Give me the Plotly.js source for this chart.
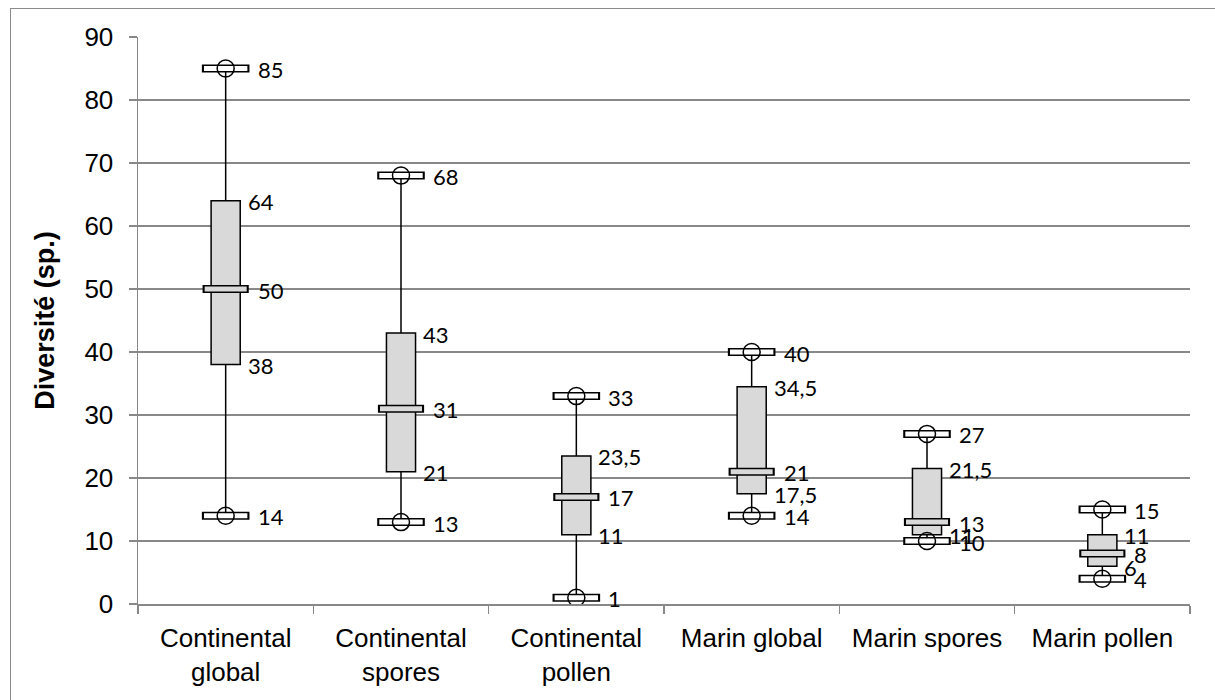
<!DOCTYPE html>
<html>
<head>
<meta charset="utf-8">
<script src="https://cdn.plot.ly/plotly-3.0.1.min.js"></script>
<style>
  html, body { margin: 0; padding: 0; background: #fff; }
  #wrap { position: relative; width: 1215px; height: 700px; overflow: hidden; }
  #chart { width: 1215px; height: 700px; }
  #frame { position: absolute; left: 9.5px; top: 8px; width: 1300px; height: 800px;
           border-left: 1.5px solid #8a8a8a; border-top: 1.5px solid #8a8a8a; pointer-events: none; }
</style>
</head>
<body>
<div id="wrap">
  <div id="chart"></div>
  <div id="frame"></div>
</div>
<script>
// ---- data ----
const categories = ["Continental<br>global", "Continental<br>spores", "Continental<br>pollen",
                    "Marin global", "Marin spores", "Marin pollen"];
const minVals    = [14, 13, 1, 14, 10, 4];
const q1Vals     = [38, 21, 11, 17.5, 11, 6];
const medianVals = [50, 31, 17, 21, 13, 8];
const q3Vals     = [64, 43, 23.5, 34.5, 21.5, 11];
const maxVals    = [85, 68, 33, 40, 27, 15];
const yTicks     = [0, 10, 20, 30, 40, 50, 60, 70, 80, 90];

const BOXFILL = "#d9d9d9";
const GRID = "#888888";
const AXFONT = "'Liberation Sans', Arial, sans-serif";

const traces = [];

// boxes + whiskers
traces.push({
  type: "box",
  x: categories,
  q1: q1Vals,
  median: medianVals,
  q3: q3Vals,
  lowerfence: minVals,
  upperfence: maxVals,
  width: 0.166,
  whiskerwidth: 0,
  boxpoints: false,
  fillcolor: BOXFILL,
  line: { color: "#000", width: 1.5 },
  hoverinfo: "skip",
  showlegend: false
});

// median marker: rectangle (outline + inner fill)
traces.push({
  type: "scatter", mode: "markers", x: categories, y: medianVals,
  marker: { symbol: "line-ew", size: 33, line: { color: "#000", width: 8 } },
  hoverinfo: "skip", showlegend: false
});
traces.push({
  type: "scatter", mode: "markers", x: categories, y: medianVals,
  marker: { symbol: "line-ew", size: 30, line: { color: BOXFILL, width: 5 } },
  hoverinfo: "skip", showlegend: false
});

// min / max markers: rectangle + circle
[minVals, maxVals].forEach(vals => {
  traces.push({
    type: "scatter", mode: "markers", x: categories, y: vals,
    marker: { symbol: "line-ew", size: 34, line: { color: "#000", width: 8 } },
    hoverinfo: "skip", showlegend: false
  });
  traces.push({
    type: "scatter", mode: "markers", x: categories, y: vals,
    marker: { symbol: "line-ew", size: 31, line: { color: "#fff", width: 5 } },
    hoverinfo: "skip", showlegend: false
  });
  traces.push({
    type: "scatter", mode: "markers", x: categories, y: vals,
    marker: { symbol: "circle-open", size: 17, color: "#000", line: { color: "#000", width: 1.5 } },
    hoverinfo: "skip", showlegend: false
  });
});

// labels
const fmt = v => String(v).replace(".", ",");
const annotations = [];
const labelSets = [
  { vals: maxVals, shift: 30 },
  { vals: q3Vals, shift: 20 },
  { vals: medianVals, shift: 30 },
  { vals: q1Vals, shift: 20 },
  { vals: minVals, shift: 30 }
];
labelSets.forEach(set => {
  set.vals.forEach((v, i) => {
    annotations.push({
      x: categories[i], y: v, xref: "x", yref: "y",
      text: fmt(v), showarrow: false,
      xanchor: "left", yanchor: "middle", xshift: set.shift, yshift: -1,
      font: { family: "Lato, Carlito, 'Liberation Sans', sans-serif", size: 22, color: "#000" }
    });
  });
});

const layout = {
  width: 1215, height: 700,
  margin: { l: 138, r: 25, t: 37, b: 96, pad: 0 },
  paper_bgcolor: "#fff", plot_bgcolor: "#fff",
  showlegend: false,
  font: { family: AXFONT, size: 26, color: "#000" },
  xaxis: {
    type: "category",
    range: [-0.5, 5.5],
    tickson: "boundaries",
    ticks: "outside", ticklen: 8, tickwidth: 1.5, tickcolor: GRID,
    showline: true, linecolor: GRID, linewidth: 1.5,
    showgrid: false, zeroline: false,
    ticklabelstandoff: 10,
    tickfont: { family: AXFONT, size: 26, color: "#000" },
    fixedrange: true
  },
  yaxis: {
    range: [0, 90],
    tickvals: yTicks,
    ticktext: yTicks.map(String),
    ticks: "outside", ticklen: 8, tickwidth: 1.5, tickcolor: GRID,
    showline: true, linecolor: GRID, linewidth: 1.5,
    showgrid: true, gridcolor: GRID, gridwidth: 1.3,
    zeroline: false,
    ticklabelstandoff: 10,
    tickfont: { family: AXFONT, size: 26, color: "#000" },
    title: { text: "<b>Diversité (sp.)</b>", standoff: 22,
             font: { family: AXFONT, size: 27, color: "#000" } },
    automargin: false,
    fixedrange: true
  },
  annotations: annotations
};

Plotly.newPlot("chart", traces, layout, { displayModeBar: false, staticPlot: true });
</script>
</body>
</html>
